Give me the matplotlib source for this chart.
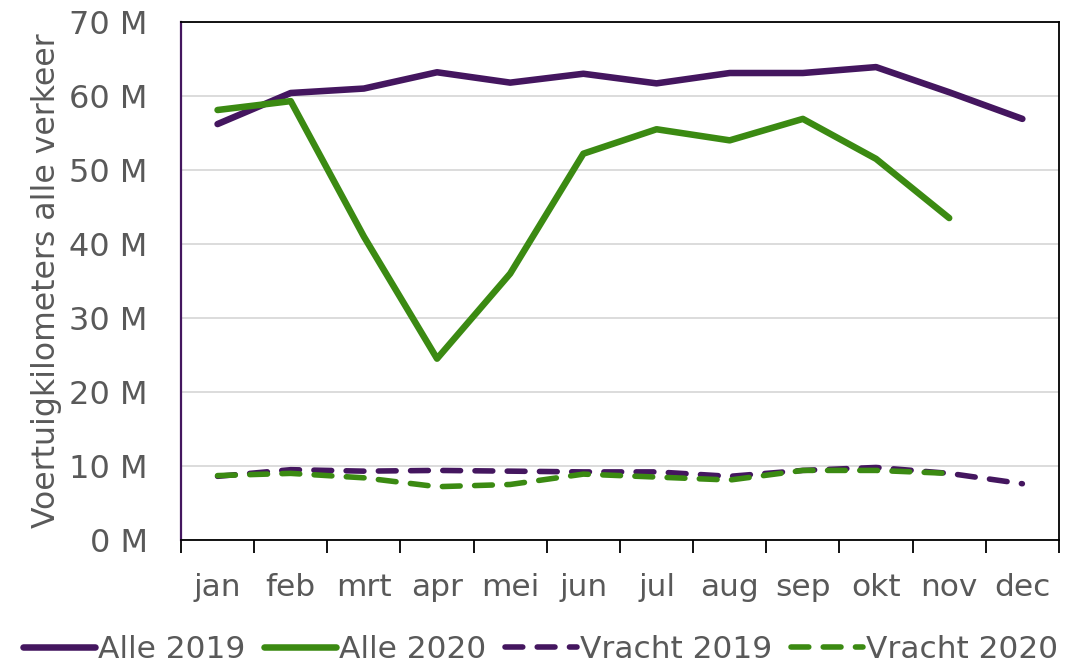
import matplotlib.pyplot as plt
import numpy as np

months = ['jan', 'feb', 'mrt', 'apr', 'mei', 'jun', 'jul', 'aug', 'sep', 'okt', 'nov', 'dec']
alle_2019 = [56.2, 60.4, 61.0, 63.2, 61.8, 63.0, 61.7, 63.1, 63.1, 63.9, 60.5, 56.9]
alle_2020 = [58.1, 59.3, 41.0, 24.5, 36.0, 52.2, 55.5, 54.0, 56.9, 51.5, 43.5]
vracht_2019 = [8.6, 9.5, 9.3, 9.4, 9.3, 9.2, 9.2, 8.6, 9.4, 9.8, 9.0, 7.6]
vracht_2020 = [8.7, 9.0, 8.4, 7.2, 7.5, 8.9, 8.5, 8.1, 9.4, 9.4, 9.0]
yticks = [0, 10, 20, 30, 40, 50, 60, 70]

purple = '#44165F'
green = '#3B8A12'
grey = '#595959'

plt.rcParams['font.family'] = ['DejaVu Sans']

fig = plt.figure(figsize=(10.81, 6.65), dpi=100)
ax = fig.add_axes([0.1674, 0.188, 0.8122, 0.779])

x = np.arange(len(months)) + 0.5
ax.plot(x, alle_2019, color=purple, lw=4.7, solid_capstyle='round', label='Alle 2019', zorder=3)
ax.plot(x[:len(alle_2020)], alle_2020, color=green, lw=4.7, solid_capstyle='round', label='Alle 2020', zorder=4)
ax.plot(x, vracht_2019, color=purple, lw=4.0, dashes=(3.2, 2.6), dash_capstyle='round', label='Vracht 2019', zorder=3)
ax.plot(x[:len(vracht_2020)], vracht_2020, color=green, lw=4.0, dashes=(3.2, 2.6), dash_capstyle='round', label='Vracht 2020', zorder=4)

ax.set_xlim(0, 12)
ax.set_ylim(0, 70)
ax.set_yticks(yticks)
ax.set_yticklabels([f'{v} M' for v in yticks])
ax.grid(True, axis='y', color='#D9D9D9', lw=1.3)
ax.set_axisbelow(True)

ax.set_xticks(np.arange(13))
ax.set_xticklabels([])
ax.set_xticks(x, minor=True)
ax.set_xticklabels(months, minor=True)
ax.tick_params(axis='x', which='major', length=9, width=1.3, color='black', direction='out')
ax.tick_params(axis='x', which='minor', length=0, pad=24, labelsize=22.5, labelcolor=grey)
ax.tick_params(axis='y', length=0, pad=24, labelsize=23, labelcolor=grey)

for s in ['top', 'right', 'bottom']:
    ax.spines[s].set_color('black')
    ax.spines[s].set_linewidth(1.3)
ax.spines['left'].set_color(purple)
ax.spines['left'].set_linewidth(1.6)

ax.set_ylabel('Voertuigkilometers alle verkeer', fontsize=22.7, color=grey, labelpad=5)

fig.legend(loc='lower center', bbox_to_anchor=(0.5, -0.022), ncol=4, frameon=False,
           fontsize=22.5, labelcolor=grey, handlelength=2.3, handletextpad=0.1,
           columnspacing=0.6, borderaxespad=0.1)

fig.savefig('out.png', dpi=100)
